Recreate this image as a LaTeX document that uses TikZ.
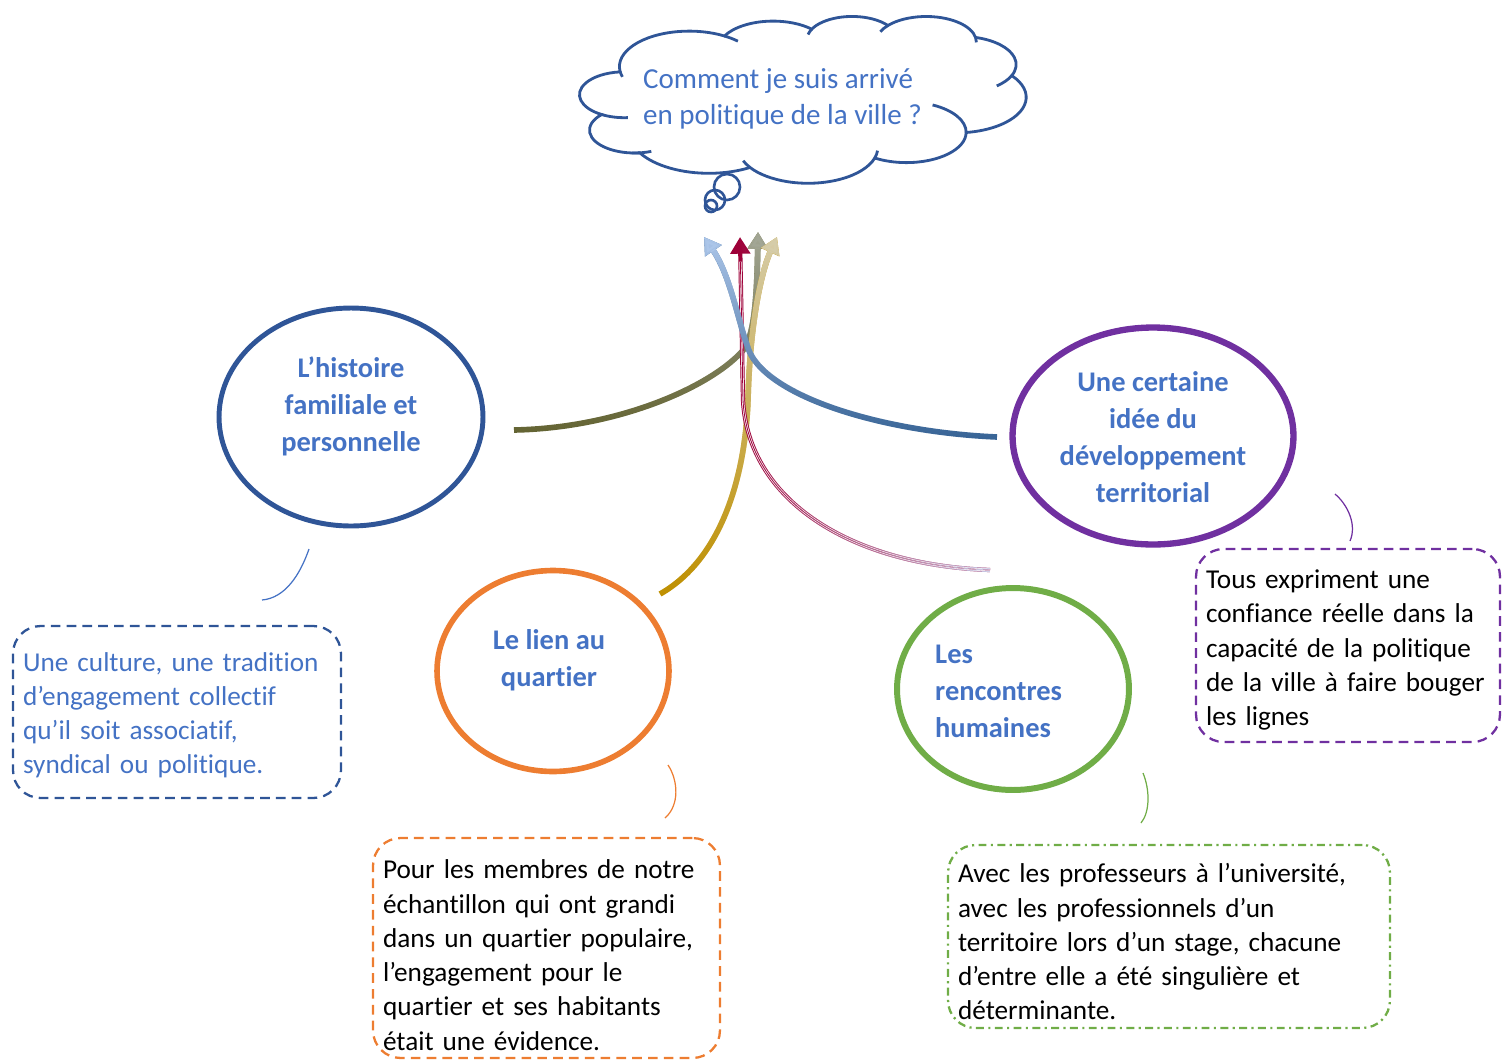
\documentclass[tikz,border=0pt]{standalone}
\usepackage{fontspec}
\setmainfont{Carlito}[Ligatures=TeX, RawFeature={-liga;-clig;-calt}]
\usetikzlibrary{shapes.geometric}
\usetikzlibrary{arrows.meta}
\usetikzlibrary{fadings}
\definecolor{titre}{HTML}{4472C4}
\definecolor{bleufonce}{HTML}{2F5597}
\definecolor{cviolet}{HTML}{7030A0}
\definecolor{corange}{HTML}{ED7D31}
\definecolor{cvert}{HTML}{70AD47}
\definecolor{olivea}{HTML}{646433}
\definecolor{oliveb}{HTML}{A3A796}
\definecolor{aciera}{HTML}{386496}
\definecolor{acierb}{HTML}{ADC7EA}
\definecolor{ora}{HTML}{BF9000}
\definecolor{orb}{HTML}{D6CDAA}
\definecolor{rougea}{HTML}{9E0038}
\definecolor{rougeb}{HTML}{C9CCE8}
\tikzfading[name=fade to top, bottom color=transparent!100, top color=transparent!0]
\tikzfading[name=fade to right, left color=transparent!100, right color=transparent!0]

\begin{document}
\begin{tikzpicture}[x=0.02cm, y=-0.02cm,
  theme/.style={ellipse, draw, line width=2.8pt},
  themetext/.style={text=titre, font=\bfseries\fontsize{16.2}{21}\selectfont, align=center},
  note/.style={draw, rounded corners=0.55cm, line width=1.3pt, align=left,
    inner xsep=0.2cm, inner ysep=0pt, font=\fontsize{15.5}{19.5}\selectfont},
  tail/.style={line width=0.7pt},
  branch/.style={line width=3.2pt},
  headed/.style={-{Triangle[length=9.5pt,width=11pt]}},
  rope/.style={line width=2.4pt}]
\useasboundingbox (0,0) rectangle (1502,1059);

% the question cloud (arcs of the usual office cloud)
\begin{scope}[shift={(579.8,15.9)}, x=0.020668cm, y=-0.007728cm,
  bleufonce, line width=1.6pt]
\draw (39.00,143.70)
  arc[start angle=-187.75, end angle=-59.63, x radius=67.53, y radius=91.90]
  arc[start angle=-152.02, end angle=-45.42, x radius=53.33, y radius=72.67]
  arc[start angle=-153.50, end angle=-37.33, x radius=43.65, y radius=59.45]
  arc[start angle=-139.71, end angle=-10.21, x radius=48.57, y radius=65.95]
  arc[start angle=-74.77, end angle=23.21, x radius=53.33, y radius=72.73]
  arc[start angle=-37.53, end angle=81.86, x radius=67.75, y radius=92.20]
  arc[start angle=0.46, end angle=121.97, x radius=57.85, y radius=78.67]
  arc[start angle=16.84, end angle=146.21, x radius=67.52, y radius=92.15]
  arc[start angle=58.98, end angle=150.19, x radius=77.20, y radius=105.43]
  arc[start angle=-276.69, end angle=-136.89, x radius=43.60, y radius=59.18]
  arc[start angle=-239.65, end angle=-95.88, x radius=43.45, y radius=59.45]
  -- cycle;
%     the small inner strokes
\draw (43.161,204.283) ++(85.54:43.45 and 59.45)
  arc[start angle=85.54, end angle=120.35, x radius=43.45, y radius=59.45];
\draw (53.033,296.021) ++(68.23:43.60 and 59.18)
  arc[start angle=68.23, end angle=93.73, x radius=43.60, y radius=59.18];
\draw (220.991,341.485) ++(146.21:67.52 and 92.15)
  arc[start angle=146.21, end angle=158.47, x radius=67.52, y radius=92.15];
\draw (220.991,341.485) ++(4.74:67.52 and 92.15)
  arc[start angle=4.74, end angle=16.84, x radius=67.52, y radius=92.15];
\draw (316.243,301.441) ++(-64.03:57.85 and 78.67)
  arc[start angle=-64.03, end angle=0.46, x radius=57.85, y radius=78.67];
\draw (369.210,125.970) ++(23.21:53.33 and 72.73)
  arc[start angle=23.21, end angle=49.64, x radius=53.33, y radius=72.73];
\draw (335.419,67.483) ++(-10.21:48.57 and 65.95)
  arc[start angle=-10.21, end angle=0.82, x radius=48.57, y radius=65.95];
\draw (335.419,67.483) ++(-156.29:48.57 and 65.95)
  arc[start angle=-156.29, end angle=-139.71, x radius=48.57, y radius=65.95];
\draw (263.660,60.892) ++(-167.73:43.65 and 59.45)
  arc[start angle=-167.73, end angle=-153.50, x radius=43.65, y radius=59.45];
\draw (105.913,131.315) ++(-59.63:67.53 and 91.90)
  arc[start angle=-59.63, end angle=-45.71, x radius=67.53, y radius=91.90];
\draw (105.913,131.315) ++(163.19:67.53 and 91.90)
  arc[start angle=163.19, end angle=172.25, x radius=67.53, y radius=91.90];
\end{scope}
\node[text=titre, align=left, anchor=west, font=\fontsize{16.5}{20.6}\selectfont]
  (question) at (637,99) {Comment je suis arrivé\\en politique de la ville ?};
%     the three bubbles
\draw[bleufonce, line width=1.5pt] (727,187) circle[radius=13];
\draw[bleufonce, line width=1.5pt] (715,200) circle[radius=10];
\draw[bleufonce, line width=1.5pt] (711,206) circle[radius=6];

% the four themes
\node[theme, draw=bleufonce, minimum width=5.28cm, minimum height=4.36cm] (histoire) at (351,417) {};
\node[themetext] (histoire-t) at (351,406) {L’histoire\\familiale et\\personnelle};
\node[theme, draw=cviolet, line width=3.6pt, minimum width=5.62cm, minimum height=4.34cm] (idee) at (1153,436) {};
\node[themetext] (idee-t) at (1153,437) {Une certaine\\idée du\\développement\\territorial};
\node[theme, draw=corange, line width=3.2pt, minimum width=4.64cm, minimum height=4.02cm] (lien) at (553,671) {};
\node[themetext] (lien-t) at (549,660) {Le lien au\\quartier};
\node[theme, draw=cvert, line width=3.4pt, minimum width=4.64cm, minimum height=4.04cm] (rencontres) at (1013,689) {};
\node[themetext, align=left, anchor=west] (rencontres-t) at (929,691) {Les\\rencontres\\humaines};

% the notes
\node[note, draw=bleufonce, text=titre, dash pattern=on 5.5pt off 3.5pt, text height=14.5pt,
  text width=6.16cm, minimum height=3.44cm] (culture) at (177,712)
  {Une culture, une tradition\\d’engagement collectif\\qu’il soit associatif,\\syndical ou politique.};
\node[note, draw=corange, dash pattern=on 5.5pt off 3.5pt, text height=19pt,
  text width=6.54cm, minimum height=4.4cm] (quartier) at (546.5,948)
  {Pour les membres de notre\\échantillon qui ont grandi\\dans un quartier populaire,\\l’engagement pour le\\quartier et ses habitants\\était une évidence.};
\node[note, draw=cvert, dash pattern=on 4.5pt off 2.5pt on 1.2pt off 2.5pt, text height=17pt,
  text width=8.44cm, minimum height=3.66cm] (universite) at (1169,936.5)
  {Avec les professeurs à l’université,\\avec les professionnels d’un\\territoire lors d’un stage, chacune\\d’entre elle a été singulière et\\déterminante.};
\node[note, draw=cviolet, dash pattern=on 5.5pt off 3.5pt, text height=16pt,
  text width=5.68cm, minimum height=3.86cm] (confiance) at (1348,645.5)
  {Tous expriment une\\confiance réelle dans la\\capacité de la politique\\de la ville à faire bouger\\les lignes};

% little tails between themes and notes
\draw[tail, titre] (309,549) .. controls (300,575) and (285,598) .. (262,600);
\draw[tail, cviolet] (1335,494) .. controls (1348,505) and (1357,525) .. (1350,541);
\draw[tail, corange] (668,765) .. controls (678,780) and (680,805) .. (665,818);
\draw[tail, cvert] (1143,773) .. controls (1150,790) and (1150,812) .. (1141,823);

% branches going up to the question
\coordinate (o1) at (514,430);
\coordinate (o2) at (745,348);
\coordinate (o3) at (758,232);
\coordinate (g1) at (660,594);
\coordinate (g2) at (748,400);
\coordinate (g3) at (777,237);
\coordinate (r1) at (990,570);
\coordinate (r2) at (743,400);
\coordinate (r3) at (740,237);
\coordinate (b1) at (997,437);
\coordinate (b2) at (747,345);
\coordinate (b3) at (704,237);
%     olive
\draw[branch, olivea, headed, postaction={draw=oliveb, path fading=fade to top}]
  (o1) .. controls (620,428) and (715,385) .. (o2)
  .. controls (755,330) and (757,290) .. (o3);
%     gold
\draw[branch, ora, headed, postaction={draw=orb, path fading=fade to top}]
  (g1) .. controls (720,560) and (745,480) .. (g2)
  .. controls (750,320) and (762,270) .. (g3);
%     crimson, three thin lines
\draw[rope, rougea, headed, postaction={draw=rougeb, path fading=fade to right}]
  (r1) .. controls (850,565) and (748,500) .. (r2) -- (r3);
\draw[line width=1.3pt, white, shorten >=14pt]
  (r1) .. controls (850,565) and (748,500) .. (r2) -- (r3);
\draw[line width=0.5pt, rougea, shorten >=14pt,
  postaction={draw=rougeb, path fading=fade to right}]
  (r1) .. controls (850,565) and (748,500) .. (r2) -- (r3);
%     blue
\draw[branch, aciera, headed, postaction={draw=acierb, path fading=fade to top}]
  (b1) .. controls (880,432) and (760,395) .. (b2)
  .. controls (738,320) and (730,275) .. (b3);
\end{tikzpicture}
\end{document}
